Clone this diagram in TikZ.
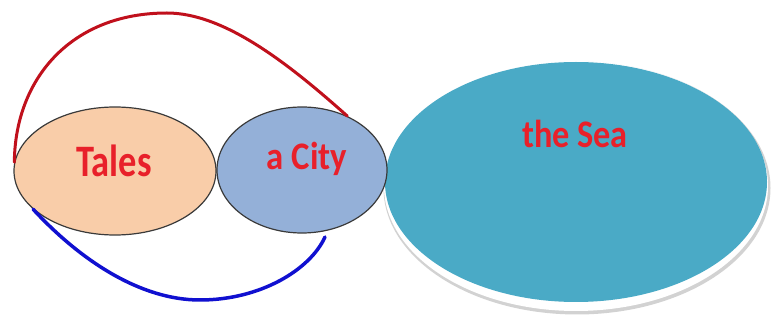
\documentclass[tikz,border=0pt]{standalone}
\usepackage{fontspec}
\setmainfont{Carlito}
\usetikzlibrary{shapes.geometric}
\definecolor{talesfill}{HTML}{F9CDA9}
\definecolor{cityfill}{HTML}{94B0D8}
\definecolor{seafill}{HTML}{4AAAC6}
\definecolor{outl}{HTML}{3A3A3A}
\definecolor{txtred}{HTML}{E8202A}
\definecolor{arcred}{HTML}{C0101C}
\definecolor{arcblue}{HTML}{1010D0}
\tikzset{
  blob/.style={ellipse, draw=outl, line width=1.2pt, inner sep=0pt},
  lbl/.style={text=txtred, inner sep=0pt, anchor=base},
  arc/.style={line width=3pt, line cap=round}
}
\begin{document}
\begin{tikzpicture}[x=1pt,y=-1pt]
\useasboundingbox (0,0) rectangle (772,323);
% the Sea with white rim and shadow
\fill[gray!35] (577,188) ellipse [x radius=193.5, y radius=126.5];
\fill[white] (576,186) ellipse [x radius=192, y radius=125];
\node[ellipse, fill=seafill, inner sep=0pt, minimum width=382pt, minimum height=240pt] (sea) at (576,182) {};
\node[blob, fill=talesfill, minimum width=202pt, minimum height=128pt] (tales) at (115,171) {};
\node[blob, fill=cityfill, minimum width=170pt, minimum height=126pt] (city) at (302,170) {};
\node[lbl, xscale=0.81, font=\bfseries\fontsize{45}{50}\selectfont] (t1) at (114,177) {Tales};
\node[lbl, xscale=0.89, font=\bfseries\fontsize{39}{44}\selectfont] (t2) at (307,170) {a City};
\node[lbl, xscale=0.88, font=\bfseries\fontsize{39}{44}\selectfont] (t3) at (575,148) {the Sea};
\coordinate (peak) at (167,13);
\coordinate (bend) at (325,237);
\coordinate (low) at (200,300);
\draw[arc, arcred] (tales.175) .. controls (15,80) and (70,13) .. (peak) .. controls (225,13) and (290,65) .. (city.50);
\draw[arc, arcblue, line width=3.5pt] (tales.205) .. controls (80,260) and (140,300) .. (low) .. controls (260,300) and (310,270) .. (bend);
\end{tikzpicture}
\end{document}
